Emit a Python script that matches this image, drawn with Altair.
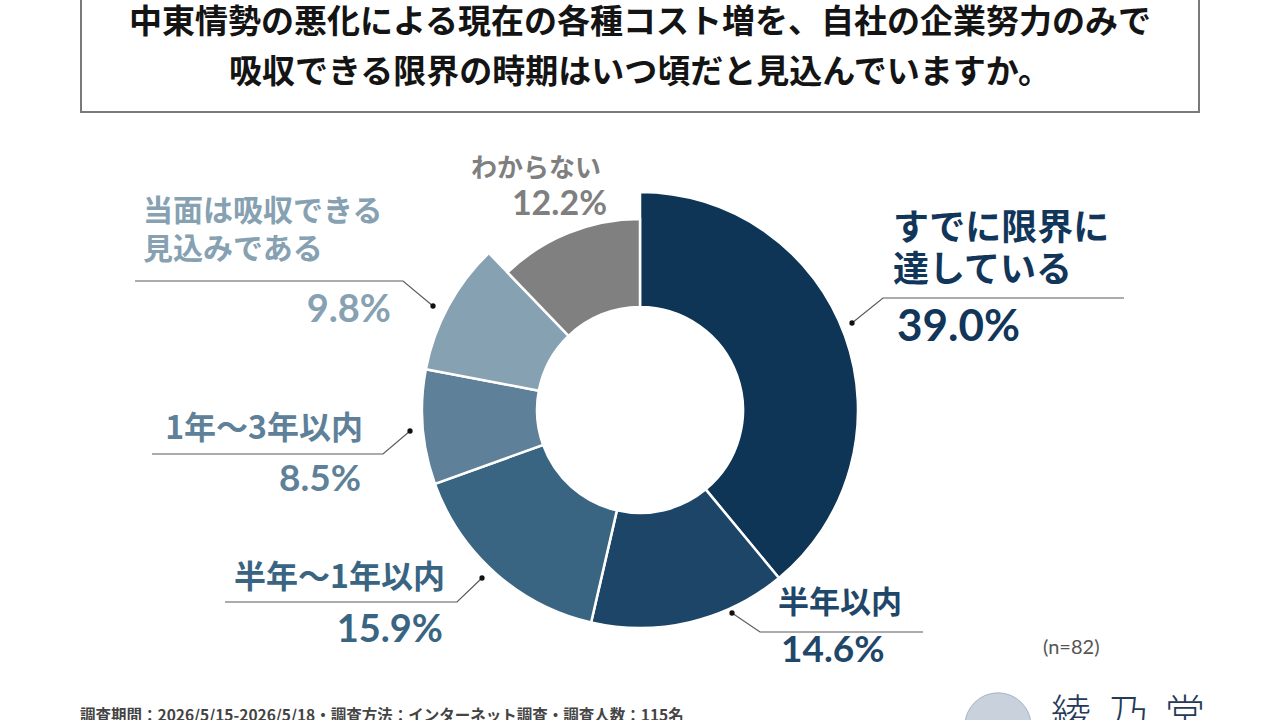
import math
import altair as alt
import pandas as pd

# ---- survey results (share of respondents, %) ----
categories = [
    "すでに限界に達している",
    "半年以内",
    "半年～1年以内",
    "1年～3年以内",
    "当面は吸収できる見込みである",
    "わからない",
]
shares = [39.0, 14.6, 15.9, 8.5, 9.8, 12.2]
label_lines = [
    ["すでに限界に", "達している"],
    ["半年以内"],
    ["半年～1年以内"],
    ["1年～3年以内"],
    ["当面は吸収できる", "見込みである"],
    ["わからない"],
]
slice_colors = ["#0e3456", "#1d4567", "#3a6582", "#5e8199", "#86a1b2", "#808080"]
text_colors = ["#12365a", "#1f4769", "#3a6582", "#5e8199", "#86a1b2", "#7f7f7f"]

title_lines = [
    "中東情勢の悪化による現在の各種コスト増を、自社の企業努力のみで",
    "吸収できる限界の時期はいつ頃だと見込んでいますか。",
]
sample_note = "(n=82)"
footer_note = "調査期間：2026/5/15-2026/5/18・調査方法：インターネット調査・調査人数：115名"
brand_chars = ["綾", "乃", "堂"]

# ---- layout ----
W, H = 1280, 720
CX, CY = 640, 410
R_OUT, R_OUT_SMALL, R_IN = 218, 191, 103
JP = "Noto Sans CJK JP"
NUM = "Lato"

# per-category label layout: name anchor, line step, name size, pct anchor, pct size, align, leader points
label_layout = [
    dict(nx=893, ny=229, step=42, ns=36, px=897, py=328, ps=44, align="left",
         leader=[(852, 323), (883, 298), (1124, 298)]),
    dict(nx=778, ny=604, step=0, ns=31, px=781, py=651, ps=37, align="left",
         leader=[(732, 613), (760, 632), (923, 632)]),
    dict(nx=445, ny=578, step=0, ns=32, px=443, py=631, ps=38, align="right",
         leader=[(482, 578), (457, 602), (225, 602)]),
    dict(nx=363, ny=429, step=0, ns=32, px=361, py=480, ps=37, align="right",
         leader=[(410, 431), (383, 454), (152, 454)]),
    dict(nx=143, ny=212, step=38, ns=30, px=391, py=311, ps=38, align="left",
         pct_align="right", leader=[(433, 306), (403, 281), (135, 281)]),
    dict(nx=601, ny=169, step=0, ns=26, px=607, py=205, ps=34, align="right",
         leader=[]),
]

df = pd.DataFrame({"category": categories, "share": shares, "order": range(len(categories))})

theta_scale = alt.Scale(domain=[0, 100], range=[0, 2 * math.pi])
color_scale = alt.Scale(domain=categories, range=slice_colors)

arc_base = alt.Chart(df).transform_window(
    cum="sum(share)", sort=[alt.SortField("order")], frame=[None, 0]
).transform_calculate(start="datum.cum - datum.share")


def ring(outer, condition):
    return arc_base.transform_filter(condition).mark_arc(
        innerRadius=R_IN, outerRadius=outer, stroke="white", strokeWidth=2.5
    ).encode(
        theta=alt.Theta("start:Q", scale=theta_scale),
        theta2=alt.Theta2("cum:Q"),
        color=alt.Color("category:N", scale=color_scale, legend=None),
        x=alt.value(CX),
        y=alt.value(CY),
    )


unknown = categories[-1]
rings = [
    ring(R_OUT, alt.datum.category != unknown),
    ring(R_OUT_SMALL, alt.datum.category == unknown),
]

blank = pd.DataFrame({"k": [0]})


def text_at(txt, x, y, size, color, font=JP, weight="bold", align="left"):
    return alt.Chart(blank).mark_text(
        text=txt, font=font, fontSize=size, fontWeight=weight, color=color,
        align=align, baseline="middle",
    ).encode(x=alt.value(x), y=alt.value(y))


layers = []

# title frame
layers.append(
    alt.Chart(blank).mark_rect(fill="white", stroke="#7a7a7a", strokeWidth=2).encode(
        x=alt.value(81), x2=alt.value(1199), y=alt.value(-6), y2=alt.value(112)
    )
)
for i, line in enumerate(title_lines):
    layers.append(text_at(line, 640, 23 + 50 * i, 33, "#141414", align="center"))

layers += rings

# leader lines and dots
lead_rows = []
dot_rows = []
for cat, lay in zip(categories, label_layout):
    for j, (px, py) in enumerate(lay["leader"]):
        lead_rows.append({"category": cat, "idx": j, "x": px, "y": py})
    if lay["leader"]:
        dot_rows.append({"category": cat, "x": lay["leader"][0][0], "y": lay["leader"][0][1]})

lead_df = pd.DataFrame(lead_rows)
layers.append(
    alt.Chart(lead_df).mark_line(color="#5a5a5a", strokeWidth=1.2).encode(
        x=alt.X("x:Q", scale=None, axis=None),
        y=alt.Y("y:Q", scale=None, axis=None),
        detail="category:N",
        order="idx:Q",
    )
)
layers.append(
    alt.Chart(pd.DataFrame(dot_rows)).mark_point(filled=True, color="#111111", size=28, opacity=1).encode(
        x=alt.X("x:Q", scale=None, axis=None),
        y=alt.Y("y:Q", scale=None, axis=None),
    )
)

# category names and percentages
for cat, share, lines, tcol, lay in zip(categories, shares, label_lines, text_colors, label_layout):
    for j, line in enumerate(lines):
        layers.append(text_at(line, lay["nx"], lay["ny"] + lay["step"] * j, lay["ns"], tcol, align=lay["align"]))
    layers.append(
        text_at(f"{share:.1f}%", lay["px"], lay["py"], lay["ps"], tcol, font=NUM,
                weight="bold", align=lay.get("pct_align", lay["align"]))
    )

layers.append(text_at(sample_note, 1043, 648, 20, "#555555", font=NUM, weight="normal"))
layers.append(text_at(footer_note, 80, 716, 15.5, "#444444", weight="bold"))

# brand mark
layers.append(
    alt.Chart(blank).mark_point(shape="circle", filled=True, size=4400, color="#c8d1dc", opacity=1,
                                stroke="#a6b4c4", strokeWidth=1).encode(
        x=alt.value(998), y=alt.value(726)
    )
)
for k, ch in enumerate(brand_chars):
    layers.append(text_at(ch, 1071 + 57 * k, 716, 40, "#253a57", weight=300, align="center"))

chart = alt.layer(*layers).properties(
    width=W, height=H, padding=0, autosize=alt.AutoSizeParams(type="none"),
    background="white",
).configure_view(stroke=None)

chart.save("out.html", embed_options={"renderer": "svg", "actions": False})
